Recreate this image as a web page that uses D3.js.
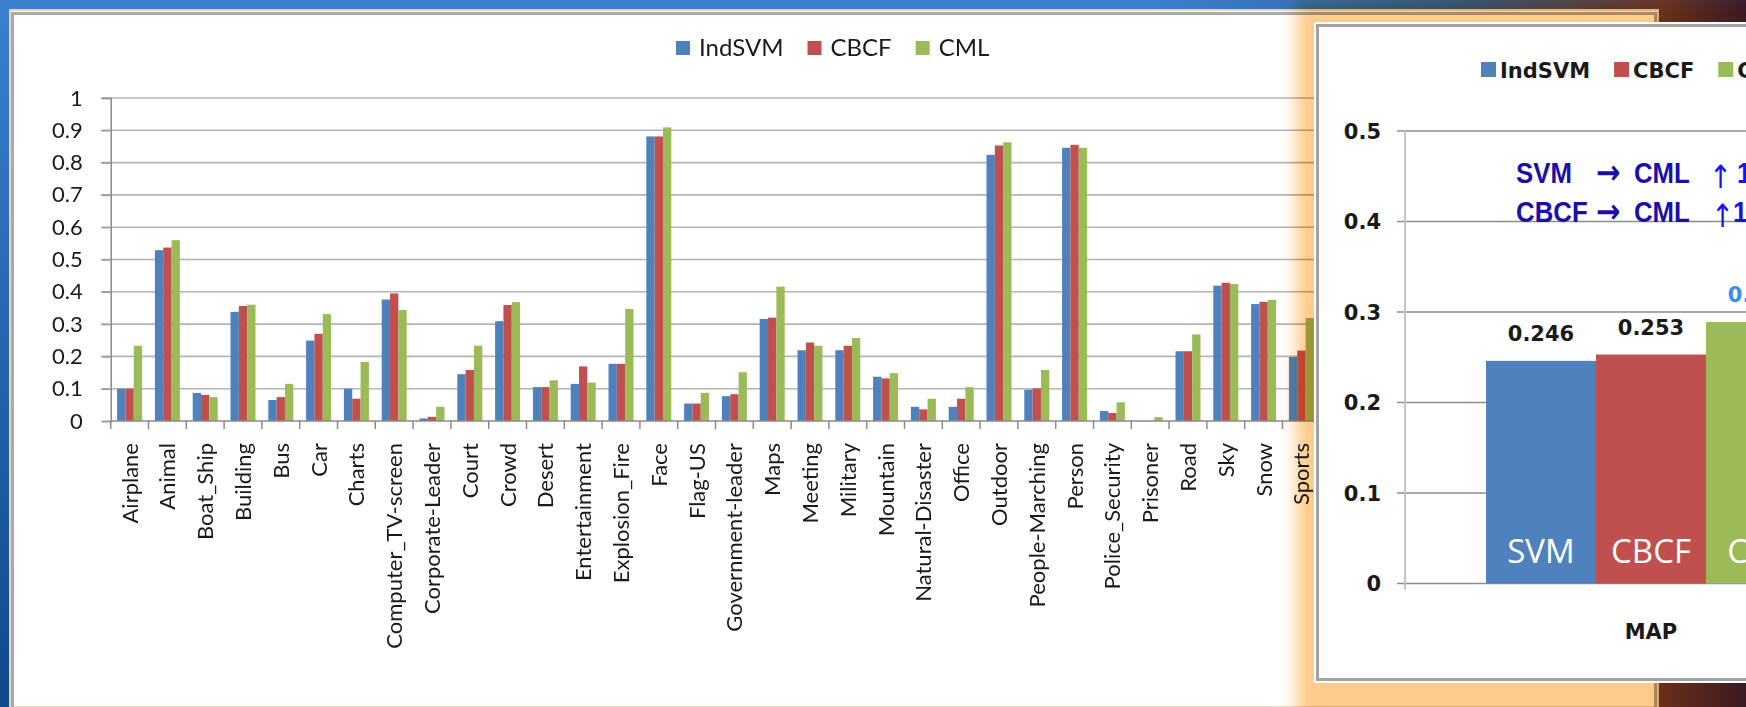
<!DOCTYPE html>
<html>
<head>
<meta charset="utf-8">
<script src="https://cdn.jsdelivr.net/npm/d3@7"></script>
<style>
  html, body { margin: 0; padding: 0; overflow: hidden; background: #2f6fc0; }
  svg { display: block; }
</style>
</head>
<body>
<svg width="1746" height="707"></svg>
<script>
const width = 1746,
    height = 707;

// main chart: per-concept AP
const categories = ["Airplane", "Animal", "Boat_Ship", "Building", "Bus", "Car", "Charts",
  "Computer_TV-screen", "Corporate-Leader", "Court", "Crowd", "Desert", "Entertainment",
  "Explosion_Fire", "Face", "Flag-US", "Government-leader", "Maps", "Meeting", "Military",
  "Mountain", "Natural-Disaster", "Office", "Outdoor", "People-Marching", "Person",
  "Police_Security", "Prisoner", "Road", "Sky", "Snow", "Sports"];

const indsvm = [0.100, 0.529, 0.087, 0.338, 0.065, 0.249, 0.100, 0.376, 0.008, 0.145, 0.309, 0.105, 0.115,
  0.177, 0.881, 0.054, 0.077, 0.316, 0.219, 0.219, 0.137, 0.044, 0.044, 0.824, 0.097, 0.846,
  0.031, 0.000, 0.216, 0.419, 0.362, 0.198];
const cbcf = [0.100, 0.537, 0.081, 0.356, 0.074, 0.270, 0.069, 0.395, 0.013, 0.158, 0.359, 0.105, 0.169,
  0.177, 0.881, 0.054, 0.083, 0.320, 0.243, 0.233, 0.132, 0.036, 0.069, 0.853, 0.101, 0.855,
  0.025, 0.000, 0.216, 0.428, 0.369, 0.218];
const cml = [0.233, 0.560, 0.074, 0.360, 0.115, 0.331, 0.183, 0.344, 0.044, 0.233, 0.368, 0.126, 0.119,
  0.347, 0.909, 0.087, 0.151, 0.416, 0.233, 0.257, 0.148, 0.069, 0.105, 0.863, 0.158, 0.846,
  0.058, 0.012, 0.268, 0.424, 0.375, 0.319];

const seriesNames = ["IndSVM", "CBCF", "CML"];
const colors = ["#4f81bd", "#c0504d", "#9bbb59"];
const yTicks = [0, 0.1, 0.2, 0.3, 0.4, 0.5, 0.6, 0.7, 0.8, 0.9, 1];

// inset: MAP
const mapCategory = ["MAP"];
const mapValues = [0.246, 0.253, 0.289];
const mapBarLabels = ["SVM", "CBCF", "CML"];
const mapTicks = [0, 0.1, 0.2, 0.3, 0.4, 0.5];
const gainFrom = ["SVM", "CBCF"];
const gainTo = ["CML", "CML"];
const gainPct = ["17.5%", "14.2%"];

const mainFont = "Lato, 'Open Sans', sans-serif";

const svg = d3.select("svg");
const defs = svg.append("defs");

// ---- slide background ----
const bg = defs.append("linearGradient").attr("id", "bgBlue")
    .attr("x1", 0).attr("y1", 0).attr("x2", 0).attr("y2", 1);
bg.append("stop").attr("offset", 0).attr("stop-color", "#3d7fd0");
bg.append("stop").attr("offset", 1).attr("stop-color", "#0e4a8c");

const dark = defs.append("linearGradient").attr("id", "bgDark")
    .attr("x1", 0).attr("y1", 0).attr("x2", 1).attr("y2", 0);
dark.append("stop").attr("offset", 0).attr("stop-color", "#2d63a8").attr("stop-opacity", 0);
dark.append("stop").attr("offset", 0.55).attr("stop-color", "#3a5a80");
dark.append("stop").attr("offset", 0.86).attr("stop-color", "#6a3a30");
dark.append("stop").attr("offset", 1).attr("stop-color", "#3a2038");

svg.append("rect").attr("width", width).attr("height", height).attr("fill", "url(#bgBlue)");
svg.append("rect").attr("x", 1150).attr("width", width - 1150).attr("height", height).attr("fill", "url(#bgDark)");

// white panel with its double border
svg.append("rect").attr("x", 10).attr("y", 10).attr("width", 1648).attr("height", 697)
    .attr("fill", "#fff").attr("stroke", "#e2d7bd").attr("stroke-width", 2);
svg.append("rect").attr("x", 12.5).attr("y", 13.5).attr("width", 1643).attr("height", 700)
    .attr("fill", "none").attr("stroke", "#a9a9a9").attr("stroke-width", 3);

// ---- main chart ----
const band = 37.8, x0 = 110.7;
const x = d3.scaleBand().domain(categories).range([x0, x0 + categories.length * band]);
const xs = d3.scaleBand().domain(seriesNames).range([6.4, 31.4]);
const y = d3.scaleLinear().domain([0, 1]).range([421, 98]);

const main = svg.append("g").style("font-family", mainFont);

main.append("g").selectAll("line").data(yTicks.slice(1)).join("line")
    .attr("x1", 101).attr("x2", 1658)
    .attr("y1", d => y(d)).attr("y2", d => y(d))
    .attr("stroke", "#b4b4b4").attr("stroke-width", 1.6);

const yAxis = main.append("g").attr("transform", `translate(${x0},0)`)
    .call(d3.axisLeft(y).tickValues(yTicks).tickSize(9).tickPadding(19).tickFormat(d => String(d)))
    .attr("font-family", mainFont);
yAxis.select(".domain").attr("stroke", "#8a8a8a").attr("stroke-width", 1.5);
yAxis.selectAll(".tick line").attr("stroke", "#9a9a9a").attr("stroke-width", 1.5);
yAxis.selectAll("text").attr("font-size", 22).attr("fill", "#1a1a1a");

// bars
const rows = categories.map((c, i) => ({ cat: c, vals: [indsvm[i], cbcf[i], cml[i]] }));
main.append("g").selectAll("g").data(rows).join("g")
    .attr("transform", d => `translate(${x(d.cat)},0)`)
    .selectAll("rect").data(d => d.vals.map((v, k) => ({ v, s: seriesNames[k], k })))
    .join("rect")
    .attr("x", d => xs(d.s)).attr("width", xs.bandwidth())
    .attr("y", d => y(d.v)).attr("height", d => y(0) - y(d.v))
    .attr("fill", d => colors[d.k]);

// x axis
const xAxis = main.append("g").attr("transform", `translate(0,${y(0)})`)
    .call(d3.axisBottom(x).tickSize(0).tickSizeOuter(0))
    .attr("font-family", mainFont);
xAxis.select(".domain").attr("d", `M${x0},0H1658`).attr("stroke", "#8a8a8a").attr("stroke-width", 1.5);
xAxis.selectAll(".tick text")
    .attr("transform", "rotate(-90)")
    .attr("x", -22).attr("y", 0).attr("dy", "0.36em")
    .style("text-anchor", "end")
    .attr("font-size", 22).attr("fill", "#1a1a1a");
xAxis.append("g").selectAll("line").data(categories).join("line")
    .attr("x1", d => x(d)).attr("x2", d => x(d))
    .attr("y1", 0).attr("y2", 8)
    .attr("stroke", "#8a8a8a").attr("stroke-width", 1.5);

// legend
const leg = main.append("g").attr("transform", "translate(676,0)");
let lx = 0;
seriesNames.forEach((name, k) => {
  leg.append("rect").attr("x", lx).attr("y", 41).attr("width", 14).attr("height", 14).attr("fill", colors[k]);
  const t = leg.append("text").attr("x", lx + 23).attr("y", 56).attr("font-size", 24)
      .attr("fill", "#1a1a1a").text(name);
  lx += 23 + t.node().getComputedTextLength() + 24;
});

// ---- orange glow around inset ----
const blur = defs.append("filter").attr("id", "glow")
    .attr("x", "-20%").attr("y", "-20%").attr("width", "140%").attr("height", "140%");
blur.append("feGaussianBlur").attr("stdDeviation", 8);
svg.append("rect").attr("x", 1296).attr("y", 4).attr("width", 600).attr("height", 720)
    .attr("fill", "#fdcb8c").attr("filter", "url(#glow)")
    .style("mix-blend-mode", "multiply");

// ---- inset chart ----
const inset = svg.append("g").style("font-family", "'DejaVu Sans', Verdana, sans-serif");
inset.append("rect").attr("x", 1316).attr("y", 24).attr("width", 520).attr("height", 657)
    .attr("fill", "#fff").attr("stroke", "#fff").attr("stroke-width", 4);
inset.append("rect").attr("x", 1317.5).attr("y", 25.5).attr("width", 520).attr("height", 654)
    .attr("fill", "none").attr("stroke", "#a2a2a2").attr("stroke-width", 3);

const mx = d3.scaleBand().domain(mapCategory).range([1486, 1816]);
const mxs = d3.scaleBand().domain(seriesNames).range([0, mx.bandwidth()]);
const my = d3.scaleLinear().domain([0, 0.5]).range([583.5, 131]);

inset.append("g").selectAll("line").data(mapTicks).join("line")
    .attr("x1", 1397).attr("x2", width)
    .attr("y1", d => my(d)).attr("y2", d => my(d))
    .attr("stroke", "#8c8c8c").attr("stroke-width", 1.5);
inset.append("line").attr("x1", 1405).attr("x2", 1405)
    .attr("y1", my(0.5)).attr("y2", my(0) + 6)
    .attr("stroke", "#c4c4c4").attr("stroke-width", 2);

inset.append("g").selectAll("text").data(mapTicks).join("text")
    .attr("x", 1381).attr("y", d => my(d)).attr("dy", "0.36em")
    .attr("text-anchor", "end").attr("font-size", 21).attr("font-weight", "bold")
    .attr("fill", "#1a1a1a").text(d => String(d));

const mbars = inset.append("g").attr("transform", `translate(${mx("MAP")},0)`);
mbars.selectAll("rect").data(mapValues).join("rect")
    .attr("x", (d, i) => mxs(seriesNames[i])).attr("width", mxs.bandwidth())
    .attr("y", d => my(d)).attr("height", d => my(0) - my(d))
    .attr("fill", (d, i) => colors[i]);
mbars.selectAll("text.val").data(mapValues).join("text").attr("class", "val")
    .attr("x", (d, i) => mxs(seriesNames[i]) + mxs.bandwidth() / 2)
    .attr("y", d => my(d) - 20)
    .attr("text-anchor", "middle").attr("font-size", 21).attr("font-weight", "bold")
    .attr("fill", (d, i) => i === 2 ? "#3a8cf2" : "#1a1a1a")
    .text(d => d3.format(".3f")(d));
mbars.selectAll("text.in").data(mapBarLabels).join("text").attr("class", "in")
    .attr("x", (d, i) => mxs(seriesNames[i]) + mxs.bandwidth() / 2)
    .attr("y", 563)
    .attr("text-anchor", "middle").attr("font-size", 33)
    .style("font-family", "'Open Sans', sans-serif")
    .attr("fill", "#fff").text(d => d);

inset.append("text").attr("x", mx("MAP") + mx.bandwidth() / 2).attr("y", 639)
    .attr("text-anchor", "middle").attr("font-size", 21).attr("font-weight", "bold")
    .attr("fill", "#1a1a1a").text("MAP");

// inset legend
const ileg = inset.append("g");
let ix = 1481;
seriesNames.forEach((name, k) => {
  ileg.append("rect").attr("x", ix).attr("y", 62).attr("width", 15).attr("height", 15).attr("fill", colors[k]);
  const t = ileg.append("text").attr("x", ix + 19).attr("y", 78).attr("font-size", 21)
      .attr("font-weight", "bold").attr("fill", "#1a1a1a").text(name);
  ix += 19 + t.node().getComputedTextLength() + 24;
});

// gain annotation
const sx = 0.86;
const ann = inset.append("g").style("font-family", "'Liberation Sans', Arial, sans-serif")
    .attr("font-weight", "bold").attr("fill", "#1a0fa8");
gainFrom.forEach((f, i) => {
  const by = 183 + i * 39;
  const g = ann.append("g").attr("transform", `translate(1516,${by}) scale(${sx},1)`);
  g.append("text").attr("x", 0).attr("font-size", 30).text(f);
  g.append("text").attr("x", (1596 - 1516) / sx).attr("y", 1).attr("font-size", 34)
      .style("font-family", "'DejaVu Sans', sans-serif").text("\u2192");
  g.append("text").attr("x", (1634 - 1516) / sx).attr("font-size", 30).text(gainTo[i]);
  g.append("text").attr("x", ((i === 0 ? 1709 : 1711) - 1516) / sx).attr("y", 5).attr("font-size", 32)
      .style("font-family", "'DejaVu Sans', sans-serif")
      .attr("font-weight", "normal").attr("fill", "#1414f0").text("\u2191");
  g.append("text").attr("x", ((i === 0 ? 1737 : 1733) - 1516) / sx).attr("font-size", 30)
      .attr("fill", "#1414f0").text(gainPct[i]);
});
</script>
</body>
</html>
